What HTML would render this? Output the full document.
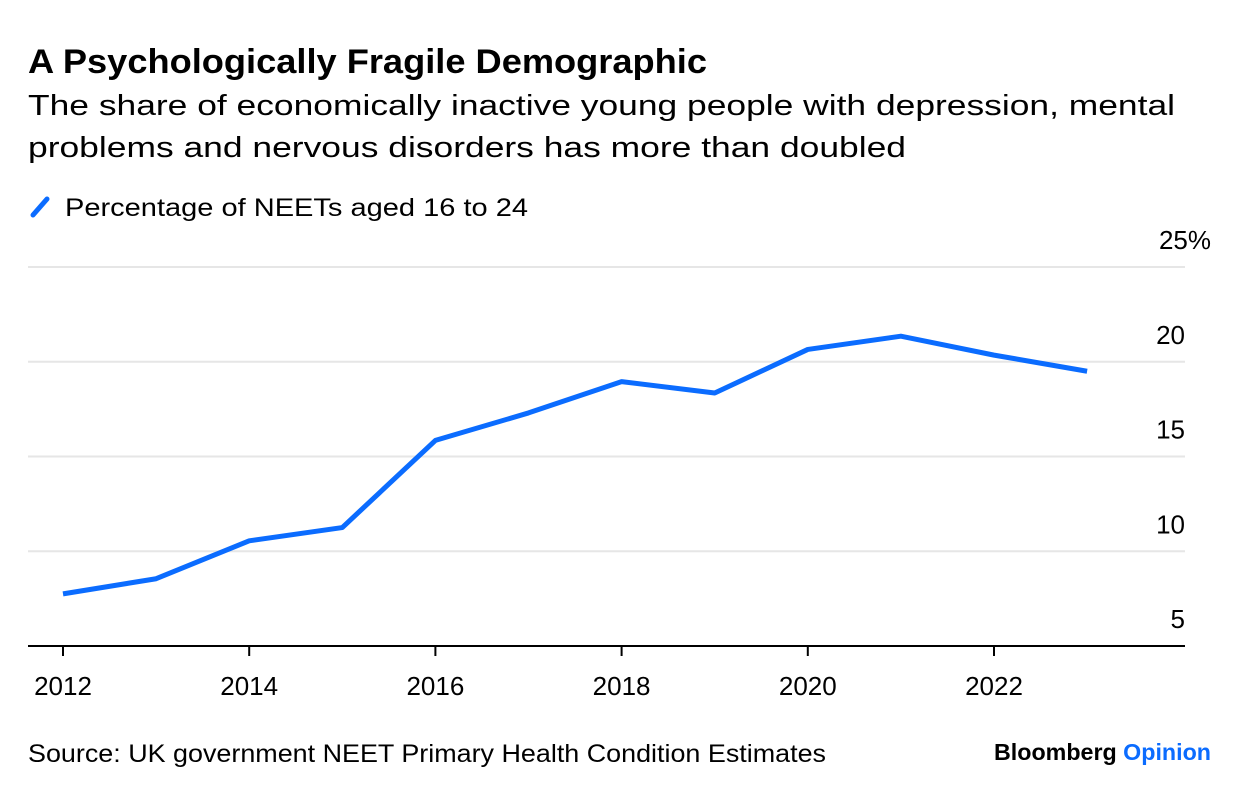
<!DOCTYPE html>
<html><head><meta charset="utf-8"><style>
body{margin:0;background:#fff;font-family:"Liberation Sans",sans-serif;}
</style></head><body>
<svg width="1240" height="796" xmlns="http://www.w3.org/2000/svg" id="svg">
<text x="28" y="73" font-size="34" font-weight="bold" fill="#000" textLength="679" lengthAdjust="spacingAndGlyphs">A Psychologically Fragile Demographic</text>
<text x="28" y="115" font-size="29" fill="#000" textLength="1147" lengthAdjust="spacingAndGlyphs">The share of economically inactive young people with depression, mental</text>
<text x="28" y="157" font-size="29" fill="#000" textLength="878" lengthAdjust="spacingAndGlyphs">problems and nervous disorders has more than doubled</text>
<line x1="33" y1="215" x2="47" y2="199" stroke="#0b6cff" stroke-width="5" stroke-linecap="round"/>
<text x="65" y="216" font-size="25" fill="#000" textLength="463" lengthAdjust="spacingAndGlyphs">Percentage of NEETs aged 16 to 24</text>
<g id="grid"></g><g id="xax"></g>
<path id="line" fill="none" stroke="#0b6cff" stroke-width="5" stroke-linejoin="round"/>
<text x="28" y="762" font-size="25" fill="#000" textLength="798" lengthAdjust="spacingAndGlyphs">Source: UK government NEET Primary Health Condition Estimates</text>
<text x="994" y="760" font-size="23" font-weight="bold" fill="#000" textLength="217" lengthAdjust="spacingAndGlyphs">Bloomberg <tspan fill="#0b6cff">Opinion</tspan></text>
</svg>
<script>
const years=[2012,2013,2014,2015,2016,2017,2018,2019,2020,2021,2022,2023];
const values=[7.75,8.55,10.55,11.25,15.85,17.3,18.95,18.35,20.65,21.35,20.35,19.5];
const yTicks=[5,10,15,20,25];
const yTickLabels=["5","10","15","20","25%"];
const xTicks=[2012,2014,2016,2018,2020,2022];
const ns="http://www.w3.org/2000/svg";
const X=v=>63+(v-2012)*93.1;
const Y=v=>646-(v-5)*18.95;
const grid=document.getElementById('grid'),xax=document.getElementById('xax');
function mk(tag,attrs,parent){const e=document.createElementNS(ns,tag);for(const k in attrs)e.setAttribute(k,attrs[k]);parent.appendChild(e);return e;}
yTicks.forEach((t,i)=>{
 if(i>0){const l=mk('line',{x1:28,x2:1185,y1:Y(t),y2:Y(t),stroke:'#e6e6e6','stroke-width':2},grid);
 
 }
 const tx=mk('text',{x:i==4?1211:1185,y:Y(t)-18,'font-size':26,'text-anchor':'end',fill:'#000'},grid);
 tx.textContent=yTickLabels[i];
 
 
});
const base=mk('line',{x1:28,x2:1185,y1:646,y2:646,stroke:'#000','stroke-width':2},xax);


xTicks.forEach(t=>{
 const tk=mk('line',{x1:X(t),x2:X(t),y1:646,y2:656,stroke:'#000','stroke-width':2},xax);
 
 
 const tx=mk('text',{x:X(t),y:695,'font-size':26,'text-anchor':'middle',fill:'#000'},xax);
 tx.textContent=t;
 
 
});
document.getElementById('line').setAttribute('d',years.map((y,i)=>(i?'L':'M')+X(y)+','+Y(values[i])).join(''));
</script>
</body></html>
